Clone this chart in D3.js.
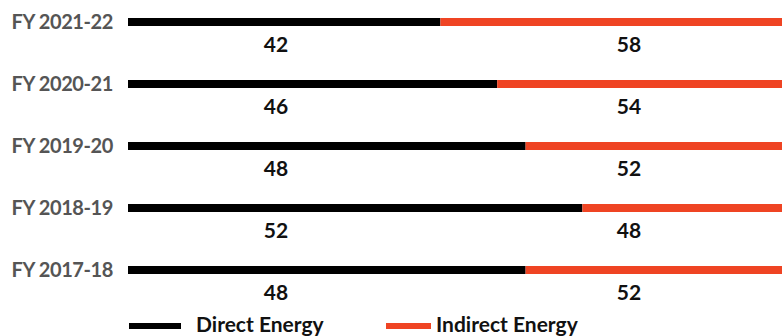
<!DOCTYPE html>
<html>
<head>
<meta charset="utf-8">
<script src="https://cdn.jsdelivr.net/npm/d3@7"></script>
<style>
  html, body { margin: 0; padding: 0; background: #ffffff; }
  svg { display: block; }
</style>
</head>
<body>
<div id="svgOutput"></div>
<script>
// data
const years = ["FY 2021-22", "FY 2020-21", "FY 2019-20", "FY 2018-19", "FY 2017-18"];
const directEnergy = [42, 46, 48, 52, 48];
const indirectEnergy = [58, 54, 52, 48, 52];
const seriesNames = ["Direct Energy", "Indirect Energy"];

document.addEventListener('DOMContentLoaded', function () {
  // config
  const width = 782;
  const height = 336;
  const colors = ["#000000", "#ef4423"];
  const barThickness = 8;

  const rows = years.map((y, i) => ({
    year: y,
    direct: directEnergy[i],
    indirect: indirectEnergy[i]
  }));

  // scales
  // the source chart's bars start around 20% and run off the right edge
  const xScale = d3.scaleLinear()
    .domain([20, 100])
    .range([128, 1264]);

  const yScale = d3.scalePoint()
    .domain(years)
    .range([22, 270]);

  const labelX = { direct: 276, indirect: 629 };

  const svg = d3.select("#svgOutput")
    .append("svg")
    .attr("width", width)
    .attr("height", height)
    .attr("viewBox", [0, 0, width, height]);

  // category labels
  svg.selectAll("text.year")
    .data(rows)
    .join("text")
    .attr("class", "year")
    .attr("x", 113)
    .attr("y", d => yScale(d.year))
    .attr("dy", "0.35em")
    .attr("text-anchor", "end")
    .style("font-family", "Lato, 'Open Sans', sans-serif")
    .style("font-size", "20px")
    .style("font-weight", "bold")
    .style("fill", "#555555")
    .style("letter-spacing", "-0.4px")
    .text(d => d.year);

  // direct bars
  svg.selectAll("rect.direct")
    .data(rows)
    .join("rect")
    .attr("class", "direct")
    .attr("x", xScale(20))
    .attr("y", d => yScale(d.year) - barThickness / 2)
    .attr("width", d => xScale(d.direct) - xScale(20))
    .attr("height", barThickness)
    .attr("fill", colors[0]);

  // indirect bars
  svg.selectAll("rect.indirect")
    .data(rows)
    .join("rect")
    .attr("class", "indirect")
    .attr("x", d => xScale(d.direct))
    .attr("y", d => yScale(d.year) - barThickness / 2)
    .attr("width", d => xScale(d.direct + d.indirect) - xScale(d.direct))
    .attr("height", barThickness)
    .attr("fill", colors[1]);

  // value labels
  ["direct", "indirect"].forEach(key => {
    svg.selectAll("text.val-" + key)
      .data(rows)
      .join("text")
      .attr("class", "val-" + key)
      .attr("x", labelX[key])
      .attr("y", d => yScale(d.year) + 30)
      .attr("text-anchor", "middle")
      .style("font-family", "Lato, 'Open Sans', sans-serif")
      .style("font-size", "21px")
      .style("font-weight", "bold")
      .style("fill", "#111111")
      .text(d => d[key]);
  });

  // legend
  const legend = svg.append("g");
  const legendItems = [
    { name: seriesNames[0], color: colors[0], x: 129, w: 52, tx: 196 },
    { name: seriesNames[1], color: colors[1], x: 386, w: 45, tx: 436 }
  ];
  legendItems.forEach(item => {
    legend.append("rect")
      .attr("x", item.x)
      .attr("y", 323)
      .attr("width", item.w)
      .attr("height", 6)
      .attr("fill", item.color);

    legend.append("text")
      .attr("x", item.tx)
      .attr("y", 332)
      .style("font-family", "Lato, 'Open Sans', sans-serif")
      .style("font-size", "21px")
      .style("font-weight", "bold")
      .style("fill", "#111111")
      .text(item.name);
  });
});
</script>
</body>
</html>
